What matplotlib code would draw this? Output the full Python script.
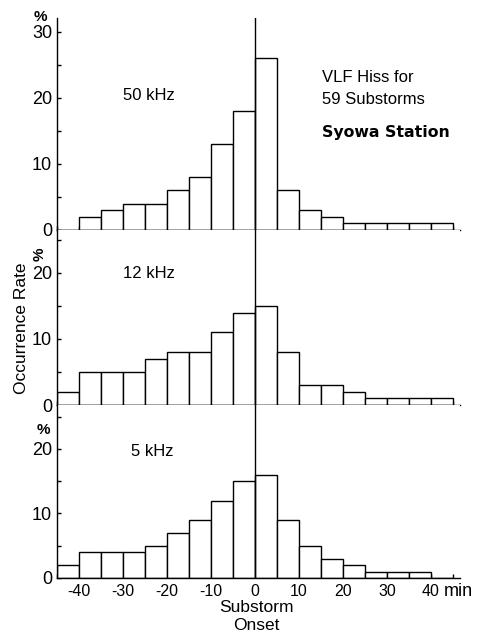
import matplotlib
matplotlib.use("Agg")
import matplotlib.pyplot as plt
import numpy as np

plt.rcParams['font.family'] = ['Liberation Sans', 'DejaVu Sans']

# Data: occurrence rate (%) in 5-min bins from -45 to +45 min
bin_starts = [-45, -40, -35, -30, -25, -20, -15, -10, -5, 0, 5, 10, 15, 20, 25, 30, 35, 40]
rate_50khz = [0, 2, 3, 4, 4, 6, 8, 13, 18, 26, 6, 3, 2, 1, 1, 1, 1, 1]
rate_12khz = [2, 5, 5, 5, 7, 8, 8, 11, 14, 15, 8, 3, 3, 2, 1, 1, 1, 1]
rate_5khz = [2, 4, 4, 4, 5, 7, 9, 12, 15, 16, 9, 5, 3, 2, 1, 1, 1, 0]
bin_width = 5
panel_labels = ["50 kHz", "12 kHz", "5 kHz"]
x_tick_values = [-40, -30, -20, -10, 0, 10, 20, 30, 40]
x_tick_labels = ["-40", "-30", "-20", "-10", "0", "10", "20", "30", "40"]

W, H = 480, 632
fig = plt.figure(figsize=(W / 100, H / 100), dpi=100)

def px(x0, y0, x1, y1):
    return [x0 / W, 1 - y1 / H, (x1 - x0) / W, (y1 - y0) / H]

left, right = 57, 459.6
panels = [
    (18, 230, rate_50khz, 32.1, [0, 10, 20, 30]),
    (230, 405, rate_12khz, 26.5, [0, 10, 20]),
    (405, 578, rate_5khz, 26.8, [0, 10, 20]),
]
lw = 1.0
axes = []
for i, (y0, y1, vals, ytop, yt) in enumerate(panels):
    ax = fig.add_axes(px(left, y0, right, y1))
    ax.bar(bin_starts, vals, width=bin_width, align='edge', facecolor='white',
           edgecolor='black', linewidth=lw, zorder=2)
    ax.axvline(0, color='black', linewidth=lw, zorder=3)
    ax.set_xlim(-45, 46.5)
    ax.set_ylim(0, ytop)
    ax.spines['top'].set_visible(False)
    ax.spines['right'].set_visible(False)
    for s in ('left', 'bottom'):
        ax.spines[s].set_linewidth(lw)
    ax.set_yticks(np.arange(0, ytop, 5), minor=True)
    ax.set_yticks(yt)
    ax.set_yticklabels([str(v) for v in yt], fontsize=13)
    ax.set_xticks(np.arange(-45, 46, 5), minor=True)
    ax.set_xticks(x_tick_values)
    ax.tick_params(axis='both', which='both', direction='in', length=3, width=lw)
    ax.tick_params(axis='y', pad=3.5)
    if i < 2:
        ax.set_xticklabels([])
    else:
        ax.set_xticklabels(x_tick_labels, fontsize=11.5)
        ax.tick_params(axis='x', pad=4)
    axes.append(ax)

def ftxt(x, y, s, **kw):
    fig.text(x / W, 1 - y / H, s, **kw)

# panel labels
ftxt(123, 96, panel_labels[0], fontsize=12, va='center', ha='left')
ftxt(123, 274, panel_labels[1], fontsize=12, va='center', ha='left')
ftxt(131, 451, panel_labels[2], fontsize=12, va='center', ha='left')

# title texts
ftxt(322, 78, "VLF Hiss for", fontsize=12, va='center', ha='left')
ftxt(322, 99, "59 Substorms", fontsize=12, va='center', ha='left')
ftxt(322, 132, "Syowa Station", fontsize=11.3, va='center', ha='left',
     fontweight='bold', family='DejaVu Sans')

# percent marks
ftxt(40, 17, "%", fontsize=11, va='center', ha='center', fontweight='bold')
ftxt(40, 254, "%", fontsize=11, va='center', ha='center', fontweight='bold', rotation=90)
ftxt(43, 430, "%", fontsize=11, va='center', ha='center', fontweight='bold')

# y label
ftxt(22, 328, "Occurrence Rate", fontsize=12.5, va='center', ha='center', rotation=90)

# x label
ftxt(458, 591, "min", fontsize=13, va='center', ha='center')
ftxt(256, 608, "Substorm", fontsize=12.5, va='center', ha='center')
ftxt(256, 625, "Onset", fontsize=12.5, va='center', ha='center')

fig.savefig("out.png", dpi=100)
